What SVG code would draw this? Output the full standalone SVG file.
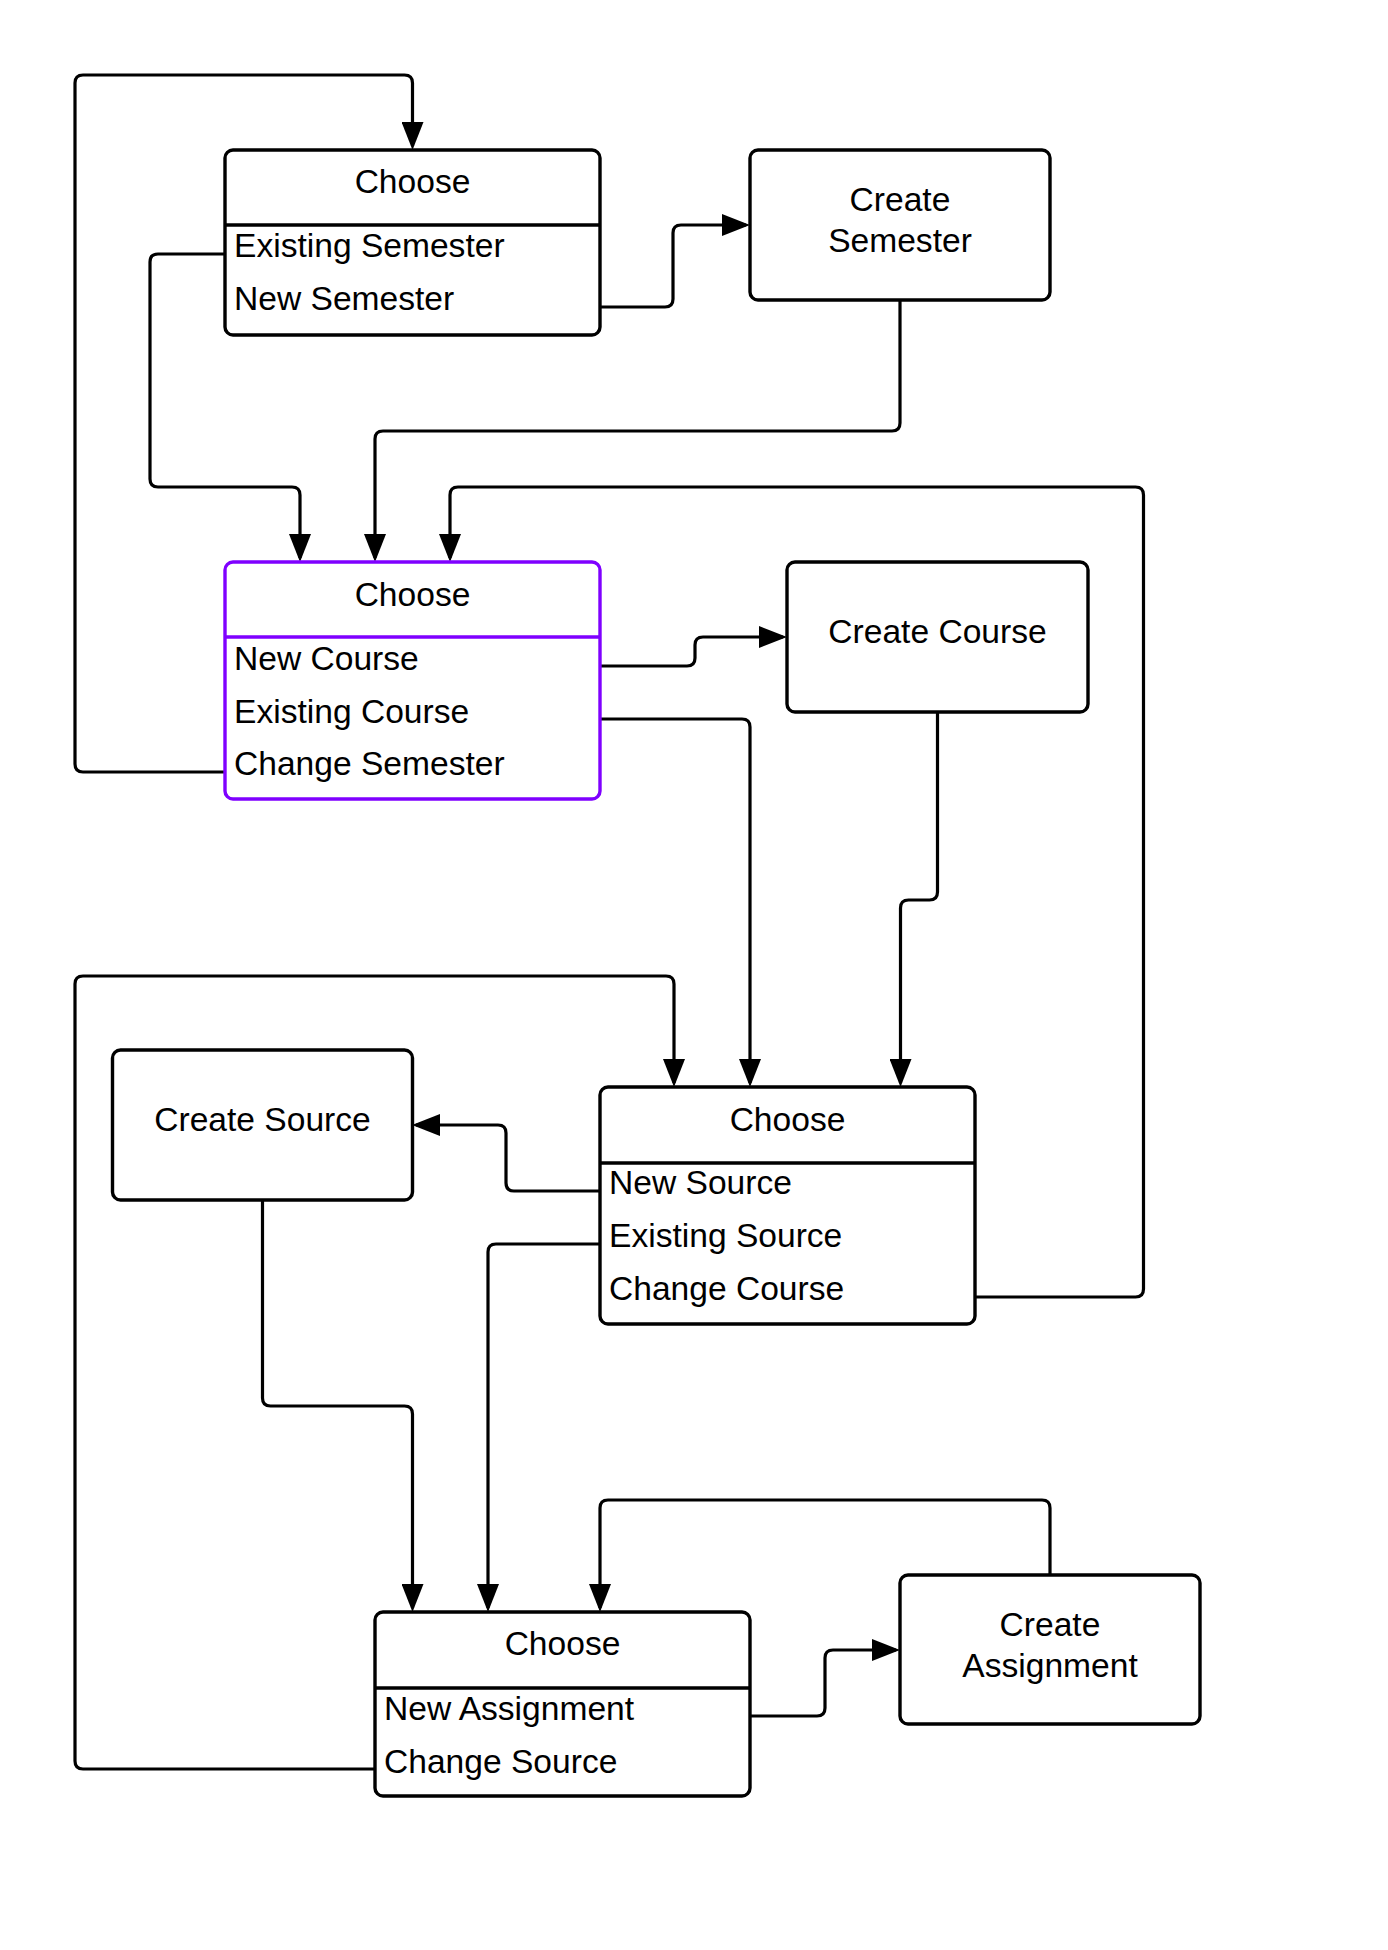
<svg xmlns="http://www.w3.org/2000/svg" width="1388" height="1950" viewBox="0 0 1388 1950">
<style>
.box{fill:#fff;stroke:#000;stroke-width:3.4}
.sel{fill:#fff;stroke:#7f00ff;stroke-width:3.4}
.div{stroke:#000;stroke-width:3.4}
.divp{stroke:#7f00ff;stroke-width:3.4}
.conn{fill:none;stroke:#000;stroke-width:3.2;marker-end:url(#arrow)}
text{font-family:"Liberation Sans",Arial,sans-serif;font-size:33.6px;fill:#000}
.c{text-anchor:middle}
</style>
<defs>
<marker id="arrow" markerUnits="userSpaceOnUse" markerWidth="28" markerHeight="22" refX="24" refY="11" orient="auto">
<path d="M0,0 L28,11 L0,22 z" fill="#000"/>
</marker>
</defs>
<rect width="1388" height="1950" fill="#fff"/>
<g id="connectors">
<path class="conn" d="M225,772 H83 Q75,772 75,764 V83 Q75,75 83,75 H404.5 Q412.5,75 412.5,83 V146"/>
<path class="conn" d="M225,254 H158 Q150,254 150,262 V479 Q150,487 158,487 H292 Q300,487 300,495 V558"/>
<path class="conn" d="M600,307 H665 Q673,307 673,299 V233 Q673,225 681,225 H746"/>
<path class="conn" d="M900,300 V423 Q900,431 892,431 H383 Q375,431 375,439 V558"/>
<path class="conn" d="M975,1297 H1135.5 Q1143.5,1297 1143.5,1289 V495 Q1143.5,487 1135.5,487 H458 Q450,487 450,495 V558"/>
<path class="conn" d="M600,666 H687 Q695,666 695,658 V645 Q695,637 703,637 H783"/>
<path class="conn" d="M600,719 H742 Q750,719 750,727 V1083"/>
<path class="conn" d="M937.5,712 V892 Q937.5,900 929.5,900 H908.5 Q900.5,900 900.5,908 V1083"/>
<path class="conn" d="M375,1769 H83 Q75,1769 75,1761 V984 Q75,976 83,976 H666 Q674,976 674,984 V1083"/>
<path class="conn" d="M600,1191 H514 Q506,1191 506,1183 V1133 Q506,1125 498,1125 H416"/>
<path class="conn" d="M262.5,1200 V1398 Q262.5,1406 270.5,1406 H404.5 Q412.5,1406 412.5,1414 V1608"/>
<path class="conn" d="M600,1244 H496 Q488,1244 488,1252 V1608"/>
<path class="conn" d="M750,1716 H817 Q825,1716 825,1708 V1658 Q825,1650 833,1650 H896"/>
<path class="conn" d="M1050,1575 V1508 Q1050,1500 1042,1500 H608 Q600,1500 600,1508 V1608"/>
</g>
<g id="choose-semester">
<rect class="box" x="225" y="150" width="375" height="185" rx="8"/>
<line class="div" x1="225" y1="225" x2="600" y2="225"/>
<text class="c" x="412.5" y="193">Choose</text>
<text x="234" y="257">Existing Semester</text>
<text x="234" y="310">New Semester</text>
</g>
<g id="create-semester">
<rect class="box" x="750" y="150" width="300" height="150" rx="8"/>
<text class="c" x="900" y="211">Create</text>
<text class="c" x="900" y="252">Semester</text>
</g>
<g id="choose-course">
<rect class="sel" x="225" y="562" width="375" height="237" rx="8"/>
<line class="divp" x1="225" y1="637" x2="600" y2="637"/>
<text class="c" x="412.5" y="605.5">Choose</text>
<text x="234" y="670">New Course</text>
<text x="234" y="722.5">Existing Course</text>
<text x="234" y="775">Change Semester</text>
</g>
<g id="create-course">
<rect class="box" x="787" y="562" width="301" height="150" rx="8"/>
<text class="c" x="937.5" y="643">Create Course</text>
</g>
<g id="choose-source">
<rect class="box" x="600" y="1087" width="375" height="237" rx="8"/>
<line class="div" x1="600" y1="1163" x2="975" y2="1163"/>
<text class="c" x="787.5" y="1130.5">Choose</text>
<text x="609" y="1194">New Source</text>
<text x="609" y="1247">Existing Source</text>
<text x="609" y="1299.5">Change Course</text>
</g>
<g id="create-source">
<rect class="box" x="112.5" y="1050" width="300" height="150" rx="8"/>
<text class="c" x="262.5" y="1131">Create Source</text>
</g>
<g id="choose-assignment">
<rect class="box" x="375" y="1612" width="375" height="184" rx="8"/>
<line class="div" x1="375" y1="1688" x2="750" y2="1688"/>
<text class="c" x="562.5" y="1655">Choose</text>
<text x="384" y="1720">New Assignment</text>
<text x="384" y="1773">Change Source</text>
</g>
<g id="create-assignment">
<rect class="box" x="900" y="1575" width="300" height="149" rx="8"/>
<text class="c" x="1050" y="1636">Create</text>
<text class="c" x="1050" y="1677">Assignment</text>
</g>
</svg>
